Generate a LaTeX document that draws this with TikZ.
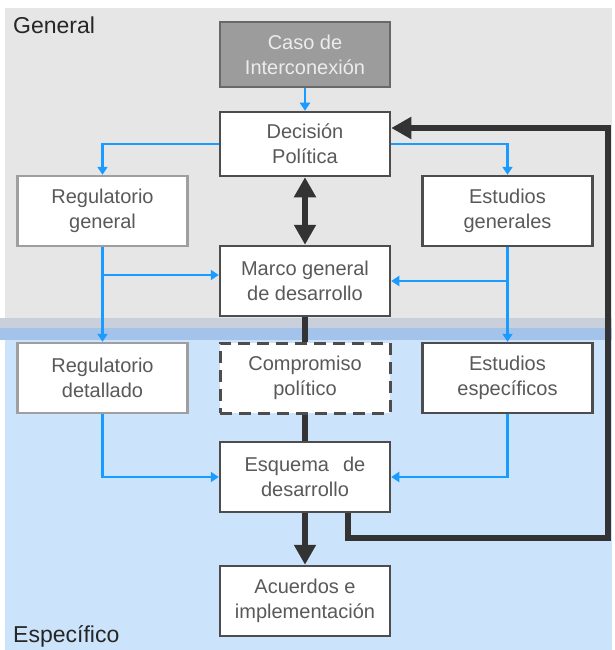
\documentclass[tikz,border=0pt]{standalone}
\usepackage{fontspec}
\setmainfont{Liberation Sans}
\usetikzlibrary{arrows.meta, calc}

\definecolor{zonagris}{HTML}{E6E6E6}
\definecolor{zonaazul}{HTML}{CCE4FB}
\definecolor{franjagris}{HTML}{C9CFDB}
\definecolor{franjaazul}{HTML}{A4C3EA}
\definecolor{flujo}{HTML}{1A9BFF}
\definecolor{oscuro}{HTML}{333333}
\definecolor{borde}{HTML}{4D4D4D}
\definecolor{texto}{HTML}{595959}

\tikzset{
	caja/.style={draw=borde, line width=2.5pt, fill=white, rectangle,
		minimum width=170pt, minimum height=70pt, inner sep=0pt,
		align=center, text=texto, font=\fontsize{20}{25}\selectfont},
	cajaclara/.style={caja, draw=gray!75},
	cajagris/.style={caja, fill=gray!78, draw=borde!85, text=gray!15, minimum height=65pt},
	cajadiscont/.style={caja, line width=3pt, dash pattern=on 12pt off 7pt},
	flecha/.style={draw=flujo, line width=2.2pt, -{Triangle[width=10pt,length=8pt]}},
	grueso/.style={draw=oscuro, line width=5.5pt},
	gruesa/.style={grueso, -{Triangle[width=21pt,length=20pt]}},
	zona/.style={font=\fontsize{23}{26}\selectfont, text=black!85, anchor=base west, inner sep=0pt}
}

\begin{document}
\begin{tikzpicture}[x=1pt, y=-1pt]
	\useasboundingbox (0,0) rectangle (615,650);

	% fondo
	\fill[zonagris]   (5,8)   rectangle (612,318);
	\fill[franjagris] (0,318) rectangle (612,328);
	\fill[franjaazul] (0,328) rectangle (612,340);
	\fill[zonaazul]   (5,340) rectangle (612,650);

	\node[zona] (general)   at (13,34)  {General};
	\node[zona] (especif)   at (13,642) {Específico};

	\node[cajagris] (caso)       at (305,54.5)
		{Caso de\\Interconexión};
	\node[caja, minimum height=64pt] (decision) at (305,144)
		{Decisión\\Política};
	\node[cajaclara] (reggen)    at (102.5,211)
		{Regulatorio\\general};
	\node[caja] (estgen)         at (507.5,211)
		{Estudios\\generales};
	\node[caja] (marco)          at (305,281)
		{Marco general\\de desarrollo};
	\node[cajaclara] (regdet)    at (102.5,378)
		{Regulatorio\\detallado};
	\node[cajadiscont] (compromiso) at (305,378)
		{Compromiso\\político};
	\node[caja] (estesp)         at (507.5,378)
		{Estudios\\específicos};
	\node[caja] (esquema)        at (305,477)
		{Esquema\hspace{0.7em}de\\desarrollo};
	\node[caja] (acuerdos)       at (305,601)
		{Acuerdos e\\implementación};

	% flujos azules
	\draw[flecha] (caso) -- (decision);
	\draw[flecha] (decision.west) -| (reggen.north);
	\draw[flecha] (decision.east) -| (estgen.north);
	\draw[flecha] (reggen) -- (regdet);
	\draw[flecha] (estgen) -- (estesp);
	\coordinate (marcoin) at ([yshift=6pt]marco.west);
	\draw[flecha] (reggen.south |- marcoin) -- (marcoin);
	\draw[flecha] (estgen.south |- marco.east) -- (marco.east);
	\draw[flecha] (regdet.south) |- (esquema.west);
	\draw[flecha] (estesp.south) |- (esquema.east);

	% eje central
	\draw[grueso, {Triangle[width=21pt,length=20pt]}-{Triangle[width=21pt,length=20pt]}]
		(decision) -- (marco);
	\draw[grueso] (marco) -- (compromiso);
	\draw[grueso] (compromiso) -- (esquema);
	\draw[gruesa] (esquema) -- (acuerdos);

	% retorno
	\coordinate (esquina) at (608,538);
	\draw[gruesa] ([xshift=43pt]esquema.south) |- (esquina)
		|- ([yshift=16pt]decision.east);
\end{tikzpicture}
\end{document}
